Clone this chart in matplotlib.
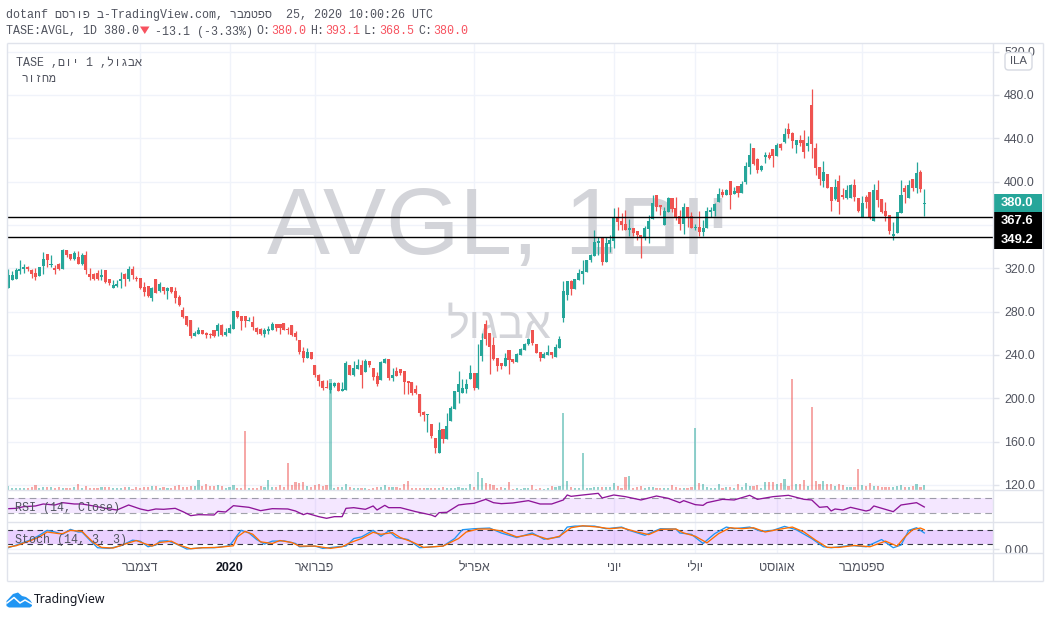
import matplotlib
matplotlib.use("Agg")
import matplotlib.pyplot as plt
from matplotlib.patches import Rectangle, FancyBboxPatch, Polygon
import numpy as np

W, H = 1050, 618

direction = ("GGGGGRRRGG" "RGRRGRRGRG" "RRRRGRRGGG" "RGRRRRRGRG" "RGRRRRRRGG"
             "RRRRGRGGGR" "RRGRRRGGGR" "RRRRRRRGRR" "RRRGGRGGRG" "GRGRRRGGRG"
             "RRRRRRRRGR" "RGRGGGGGGG" "RGGRRRRRGR" "RGGGGRRRGG" "RGGGGRGGGG"
             "GGGRGGGRRR" "GRRRGGGRRG" "GRRRGRRGRG" "GGGGRGRGRG" "GGRRGGRRGR"
             "GRRGRRGRRR" "GRRGRRGGRR" "GRRGRRRRGG" "GRGRGRG")

high = [319.1,317.8,320.0,327.7,324.0,322.1,319.4,320.0,320.9,334.8,
        333.2,332.3,323.1,325.2,337.5,336.9,333.2,336.0,336.0,333.8,
        336.0,320.3,315.4,318.5,319.4,318.5,310.1,309.2,309.2,316.6,
        315.4,322.1,322.1,312.9,311.1,307.4,303.7,302.8,310.1,307.4,
        302.8,302.8,302.8,302.8,295.4,284.3,276.0,272.3,262.1,265.8,
        263.1,261.2,260.3,263.1,269.5,268.6,264.9,268.6,280.6,280.6,
        276.0,276.0,275.1,276.0,265.8,264.9,264.9,266.8,270.5,268.6,
        268.6,269.5,265.8,267.7,262.1,253.8,247.4,246.5,242.8,230.8,
        222.4,216.9,216.9,214.1,215.1,215.1,215.1,234.4,230.8,234.4,
        236.3,235.4,236.3,234.4,228.0,224.3,234.4,237.2,236.3,228.0,
        228.9,227.1,225.2,216.0,215.1,212.3,204.0,188.3,185.5,176.3,
        163.4,178.1,171.7,186.5,192.9,206.8,225.2,217.8,217.8,230.8,
        223.4,250.1,260.3,272.3,260.3,256.6,237.2,232.6,241.8,244.6,
        236.3,241.8,246.5,251.1,255.7,263.1,250.1,242.8,242.8,249.2,
        242.8,250.1,257.5,308.3,308.3,309.2,310.1,319.4,327.7,327.7,
        333.2,355.4,349.2,349.2,349.2,350.8,375.4,376.6,370.8,373.8,
        365.5,357.2,354.5,350.8,359.1,369.2,387.7,387.7,378.5,376.6,
        385.8,384.9,385.8,373.8,380.3,376.6,372.0,360.9,372.9,364.6,
        376.6,376.6,380.3,394.2,393.2,393.2,400.6,395.1,396.0,400.6,
        418.2,435.7,431.1,421.8,415.4,427.4,427.4,430.2,435.7,435.7,
        449.5,454.2,445.8,438.5,443.1,447.7,442.2,485.5,435.7,413.5,
        419.1,407.1,395.1,402.5,406.2,394.2,396.9,397.8,402.5,384.9,
        386.8,387.7,390.4,397.8,401.5,384.0,381.2,369.2,362.8,372.0,
        401.5,396.9,401.5,402.5,418.2,410.8,393.1]

body_top = [313.8,313.8,318.5,319.4,320.9,320.9,318.5,315.7,320.9,328.6,
        333.2,324.3,320.3,324.3,336.9,336.9,333.2,333.8,330.1,332.3,
        332.3,314.8,314.8,315.4,313.8,318.5,310.1,304.6,305.5,310.1,
        314.8,319.4,319.4,310.8,311.1,302.8,303.7,301.8,310.1,305.5,
        302.8,301.8,302.8,299.1,293.5,281.5,276.0,272.3,260.3,263.1,
        263.1,260.3,259.4,263.1,267.7,267.7,261.2,264.9,280.6,280.6,
        276.0,276.0,272.3,270.5,264.9,264.0,263.1,264.0,268.6,268.6,
        268.6,269.5,264.0,267.7,260.3,253.8,243.7,242.8,242.8,230.8,
        221.5,216.0,209.8,214.1,214.1,214.1,208.3,232.6,230.8,228.0,
        230.8,230.8,234.4,234.4,228.0,220.6,233.5,236.3,236.3,221.5,
        225.2,227.1,225.2,216.0,215.1,208.6,204.0,187.4,185.5,176.3,
        163.4,170.8,171.7,174.5,191.1,206.8,213.2,209.5,213.2,223.4,
        223.4,223.4,253.8,268.6,260.3,249.2,237.2,232.6,237.2,244.6,
        236.3,240.9,245.5,250.1,254.8,263.1,250.1,242.8,240.9,242.8,
        242.8,247.4,254.8,299.1,308.3,308.3,310.1,315.7,317.5,327.7,
        332.3,344.3,345.2,349.2,343.4,346.2,367.7,367.7,363.7,360.9,
        357.2,357.2,354.5,350.8,357.2,363.7,380.3,387.7,378.5,372.9,
        384.9,384.9,375.7,368.3,376.6,376.6,368.3,358.1,358.1,357.2,
        372.9,373.8,379.4,388.6,390.4,392.3,400.6,391.4,396.0,397.8,
        414.5,424.6,431.1,420.9,414.5,424.6,424.6,430.2,433.9,434.8,
        444.0,448.6,444.9,438.5,438.5,438.5,435.7,470.8,431.1,413.5,
        408.9,407.1,395.1,395.1,400.6,387.7,392.3,396.9,396.9,384.9,
        380.3,385.8,390.4,392.3,392.3,384.0,372.9,369.2,351.7,372.0,
        387.7,394.2,396.9,402.5,408.0,409.0,380.4]

body_bottom = [302.1,309.2,310.1,317.5,319.1,319.1,315.1,312.3,313.2,322.2,
        327.7,323.1,318.5,319.4,319.7,332.6,328.6,328.6,324.0,324.0,
        318.5,312.3,309.8,309.8,312.3,307.4,306.5,301.8,303.7,308.6,
        310.1,310.1,313.8,309.8,301.8,298.2,294.5,292.6,296.9,299.1,
        299.1,299.1,298.2,292.6,286.1,275.1,267.7,257.5,257.5,259.4,
        259.4,258.5,258.5,257.5,262.1,258.5,258.5,260.3,264.0,275.1,
        271.4,271.4,271.4,265.8,261.2,259.4,259.4,262.1,263.1,264.9,
        264.9,263.1,263.1,258.5,256.6,242.8,237.2,237.2,236.3,221.5,
        216.0,209.5,209.2,207.7,211.4,206.8,206.8,207.7,221.5,221.5,
        227.1,221.5,224.3,230.8,219.7,213.2,216.9,232.6,218.8,218.8,
        220.6,223.4,215.1,214.1,204.9,204.9,186.5,184.6,184.6,165.2,
        154.1,149.5,162.5,162.5,179.1,190.1,205.8,204.9,208.6,217.8,
        209.5,209.5,239.1,254.8,247.4,236.3,229.8,229.8,229.8,235.4,
        233.5,233.5,240.0,244.6,250.1,251.1,241.8,237.2,237.2,240.0,
        240.0,238.1,246.5,274.2,295.4,300.9,300.9,309.2,314.8,316.6,
        327.7,331.4,343.4,325.8,325.8,342.5,345.2,363.1,360.0,355.4,
        355.4,352.6,350.8,348.0,348.0,356.3,365.5,376.6,376.6,360.0,
        372.0,374.8,367.4,360.9,360.9,366.5,357.2,357.2,353.5,353.5,
        357.2,372.0,372.9,381.2,387.7,387.7,387.7,388.6,389.5,389.5,
        399.7,413.5,416.3,410.8,410.8,422.8,421.8,423.7,423.7,431.1,
        436.6,444.0,437.5,433.9,435.7,427.4,432.9,434.8,412.6,402.5,
        400.6,394.2,382.2,384.0,381.2,385.8,384.9,384.9,385.8,372.9,
        367.4,381.2,366.5,363.7,383.1,372.0,368.3,354.5,349.8,352.6,
        371.1,390.5,384.9,394.2,394.2,393.2,379.6]

low = [302.1,309.2,310.1,314.8,316.0,317.8,311.4,309.2,313.2,314.8,
        321.5,321.5,314.8,318.5,319.7,330.8,327.7,327.7,324.0,323.1,
        314.8,309.2,309.2,309.2,309.2,306.2,304.6,301.8,303.1,301.8,
        303.7,308.3,310.1,308.3,300.9,294.5,293.5,289.8,296.9,298.2,
        296.3,291.7,297.2,288.0,285.2,274.1,266.8,255.7,257.5,259.4,
        259.4,255.7,255.7,256.6,257.5,257.5,257.5,260.3,264.0,274.1,
        263.1,265.8,271.4,263.1,259.4,258.5,256.6,259.4,263.1,262.1,
        259.4,263.1,259.4,257.5,253.8,240.9,233.5,237.2,236.3,219.7,
        211.4,207.7,209.2,204.9,210.5,206.8,206.8,207.7,221.5,220.6,
        227.1,209.6,224.3,228.9,216.9,211.4,216.9,232.6,216.9,216.0,
        220.6,221.5,204.0,204.0,203.1,204.0,183.7,179.1,168.9,163.4,
        149.5,149.5,158.8,162.5,179.1,190.1,195.7,204.9,204.9,217.8,
        207.7,208.6,234.4,249.2,222.5,235.4,225.2,227.1,229.8,222.5,
        232.6,233.5,240.0,244.6,249.2,249.2,241.8,234.4,237.2,240.0,
        237.2,238.1,246.5,270.5,290.8,295.4,300.9,309.2,305.5,316.6,
        325.8,331.4,332.3,323.1,325.8,334.8,338.5,355.4,355.4,355.4,
        349.8,349.8,346.2,329.5,346.2,343.4,365.5,372.9,369.2,360.0,
        372.0,372.0,364.6,355.4,351.7,358.1,357.2,355.4,349.8,349.8,
        357.2,367.4,368.3,381.2,385.8,387.7,374.8,388.6,385.8,389.5,
        397.8,407.1,415.4,408.0,409.8,417.2,420.9,413.5,423.7,429.2,
        435.7,440.3,431.1,426.5,432.9,421.8,428.3,421.8,406.2,396.9,
        395.1,394.2,372.9,383.1,370.2,384.0,384.0,384.9,382.2,372.0,
        367.4,375.7,365.5,363.7,376.6,371.1,363.7,351.7,346.2,352.6,
        371.1,380.3,384.9,391.4,389.5,390.5,368.5]

volume = [4,2,2,2,2,2,3,5,2,3, 3,3,2,3,2,2,2,3,6,2, 4,2,2,2,3,3,3,2,2,2,
          3,3,1,3,2,3,3,4,4,2, 3,2,2,4,5,3,3,4,4,10, 4,6,4,4,5,4,2,3,5,2,
          2,59,2,2,2,4,3,10,3,3, 5,3,27,5,8,7,8,4,3,5, 6,4,5,111,2,3,3,6,3,2,
          2,2,2,1,2,3,3,5,3,3, 3,2,6,9,2,2,2,2,2,2, 2,2,3,2,2,2,3,2,2,6,
          3,18,12,7,6,5,2,3,2,8, 1,2,1,2,2,5,1,2,1,2, 4,3,4,77,9,3,2,2,37,2,
          2,3,3,3,3,3,7,4,2,13, 14,2,3,4,2,3,3,2,2,2, 2,5,3,2,2,2,3,62,7,6,
          3,2,2,6,2,3,3,2,6,3, 7,4,4,5,2,8,8,8,6,7, 11,4,111,6,6,10,4,83,9,6,
          9,6,6,4,6,5,3,3,3,21, 5,4,7,4,4,3,3,3,3,4, 5,3,3,4,6,3,5]

rsi_bar = [1,3,5,8,10,13,15,18,20,23,26,29,32,35,37,39,41,44,46,48,50,54,55,57,59,63,66,69,73,75,
           77,78,81,83,85,87,88,90,93,95,96,98,99,102,106,110,111,112,114,117,119,121,124,126,128,
           131,135,138,141,144,145,146,149,153,154,157,160,164,168,171,174,175,178,180,181,185,188,
           192,194,198,202,206,208,210,212,213,214,216,218,222,223,224,229,231,235,237]
rsi_val = [42.3,43.2,47.7,49.5,54.8,52.1,58.3,54.8,54.8,49.5,43.2,38.8,52.1,41.5,37,41.5,40.6,43.2,34.3,23.7,
           26.3,25.4,35.2,33.5,50.3,45.9,37,42.3,41.5,36.1,26.3,29.9,21,16.6,21,21,43.2,45,40.6,49.5,
           38.8,51.2,45,45,34.3,25.4,21,31.7,32.6,52.1,54.8,56.6,67.2,58.3,55.7,
           57.5,63.7,54.8,54.8,65.5,78.8,75.2,78.8,83.2,70.8,78.8,74.3,65.5,76.1,69.9,58.3,63.7,53,
           51.2,58.3,67.2,65.5,77.9,67.2,74.3,77.9,67.2,65.5,45.9,47.7,36.1,41.5,38.8,45.9,36.1,38.8,
           49.5,34.3,52.1,58.3,46.8]

k_bar = [1,3,7,9,11,13,15,17,19,20,22,24,27,30,33,35,37,39,40,42,44,47,51,54,58,60,61,63,65,67,69,72,75,76,
         80,82,86,88,90,92,95,97,99,101,104,107,113,116,118,121,125,128,132,136,139,143,145,147,152,155,159,
         161,165,169,173,174,177,180,183,186,188,192,195,198,201,204,208,211,213,218,222,226,229,231,233,235,237]
k_val = [6.6,17.3,39.9,57.2,77.2,70.6,61.2,81.2,70.6,70.6,37.3,6.6,3.9,14.6,37.3,33.3,10.6,17.3,33.3,34.6,23.9,
         1.3,6.6,6.6,14.6,57.2,77.2,66.6,39.9,21.3,33.3,34.6,23.9,10.6,13.3,3.9,10.6,13.3,43.9,50.6,77.2,53.3,
         74.6,47.9,39.9,6.6,13.3,43.9,79.9,83.9,86.6,66.6,47.9,66.6,41.2,50.6,90.6,94.6,94.6,83.9,90.6,
         77.2,57.2,83.9,82.6,66.6,61.2,23.9,63.9,90.6,83.9,90.6,73.2,77.2,93.3,79.9,43.9,10.6,6.6,15.9,10.6,
         39.9,6.6,17.3,77.2,87.9,66.6]

d_bar = [1,3,7,9,11,14,15,17,20,21,23,25,28,31,34,36,38,40,43,45,48,51,55,59,60,62,64,66,69,71,74,76,80,84,87,
         89,92,95,97,100,102,105,108,113,117,119,122,125,128,132,136,140,143,146,149,153,156,159,163,166,169,
         173,175,178,181,184,187,190,193,196,199,203,206,209,212,215,219,223,227,230,232,234,236,237]
d_val = [9.3,14.6,37.3,50.6,70.6,63.9,63.9,77.2,73.2,57.2,26.6,7.9,5.2,21.3,35.9,23.9,13.3,27.9,33.3,17.3,2.6,
         6.6,7.9,14.6,50.6,73.2,61.2,30.6,23.9,35.9,27.9,13.3,13.3,3.9,10.6,26.6,43.9,69.3,61.2,67.9,47.9,30.6,
         7.9,13.3,43.9,70.6,82.6,82.6,74.6,50.6,61.2,41.2,53.3,87.9,95.9,90.6,83.9,87.9,70.6,59.9,81.2,82.6,
         66.6,53.3,26.6,63.9,87.9,83.9,87.9,70.6,79.9,90.6,70.6,37.3,7.9,7.9,15.9,10.6,33.3,13.3,50.6,79.9,86.6,79.9]

month_ticks = [34, 57, 79, 120, 156, 177, 198, 220]
month_labels = ["דצמבר", "2020", "פברואר", "אפריל", "יוני", "יולי", "אוגוסט", "ספטמבר"]
price_ticks = [120, 160, 200, 240, 280, 320, 360, 400, 440, 480, 520]
price_hidden = [360]
level_lines = [367.6, 349.2]
rsi_band = [30, 70]
stoch_band = [20, 80]


def vis(s):
    return s[::-1]


UP, DOWN = "#26a69a", "#ef5350"
GRID = "#f0f3fa"
BORDER = "#e0e3eb"
TXT = "#131722"
GREY = "#50535e"
WM = "#d3d4d9"
SANS = "Liberation Sans"
MONO = "Liberation Mono"

fig = plt.figure(figsize=(W / 100, H / 100), dpi=100, facecolor="white")


def pane(x0, y0, x1, y1, **kw):
    return fig.add_axes([x0 / W, 1 - y1 / H, (x1 - x0) / W, (y1 - y0) / H], **kw)


XL = (-0.464, 253.7)
ax = pane(6.5, 43, 993, 489.5)
vx = pane(6.5, 43, 993, 489.5)
rs = pane(6.5, 490, 993, 521.5)
st = pane(6.5, 522, 993, 552.5)

x = np.arange(len(high))
colors = [UP if c == "G" else DOWN for c in direction]

# main
ax.set_xlim(*XL)
ax.set_ylim(115.8, 528)
for t in month_ticks:
    for a in (ax, rs, st):
        a.axvline(t, color=GRID, lw=1, zorder=0)
for p in price_ticks:
    ax.axhline(p, color=GRID, lw=1, zorder=0)
ax.text(0.4992, 0.5274, "AVGL, 1" + vis("יום"), transform=ax.transAxes, ha="center", va="baseline",
        fontsize=68, color=WM, family=SANS, zorder=1)
ax.text(0.4992, 0.339, vis("אבגול"), transform=ax.transAxes, ha="center", va="baseline",
        fontsize=31, color=WM, family=SANS, zorder=1)
ax.vlines(x, low, high, colors=colors, lw=0.9, zorder=4)
bh = [max(t - b, 1.0) for t, b in zip(body_top, body_bottom)]
ax.bar(x, bh, width=0.78, bottom=body_bottom, color=colors, linewidth=0, zorder=5)
for lv in level_lines:
    ax.axhline(lv, color="black", lw=1.0, zorder=6)
ax.yaxis.tick_right()
shown = [p for p in price_ticks if p not in price_hidden]
ax.set_yticks(shown)
ax.set_yticklabels([f"{p:.1f}" for p in shown], family=SANS, fontsize=8.9, color=GREY)
ax.tick_params(axis="y", length=4, width=1, color=BORDER, pad=4)
ax.set_xticks([])

# volume
vx.set_xlim(*XL)
vx.set_ylim(0, 446.5)
vx.patch.set_alpha(0)
vx.bar(x, volume, width=0.56, color=colors, alpha=0.5, linewidth=0)
vx.axis("off")

# RSI
rs.set_xlim(*XL)
rs.set_ylim(8.1, 92.1)
rs.axhspan(*rsi_band, color="#9915ff", alpha=0.1, lw=0, zorder=1)
for b in rsi_band:
    rs.axhline(b, color="#787b86", lw=0.8, dashes=(6, 4), alpha=0.7, zorder=2)
rs.plot(np.array(rsi_bar) - 1, rsi_val, color="#8e1599", lw=0.95, zorder=3)
rs.set_xticks([])
rs.set_yticks([])

# Stochastic
st.set_xlim(*XL)
st.set_ylim(-12.8, 111.2)
st.axhspan(*stoch_band, color="#9915ff", alpha=0.2, lw=0, zorder=1)
for b in stoch_band:
    st.axhline(b, color="#363a45", lw=0.8, dashes=(5, 4), zorder=2)
st.plot(np.array(k_bar) - 1, k_val, color="#2196f3", lw=0.95, zorder=3)
st.plot(np.array(d_bar) - 1, d_val, color="#ff6d00", lw=0.95, zorder=4)
st.yaxis.tick_right()
st.set_yticks([0])
st.set_yticklabels(["0.00"], family=SANS, fontsize=8.9, color=GREY)
st.axhline(0, color=GRID, lw=1, zorder=0)
st.tick_params(axis="y", length=4, width=1, color=BORDER, pad=4)
st.set_xticks(month_ticks)
st.set_xticklabels([vis(m) if not m.isdigit() else m for m in month_labels], family=SANS, fontsize=9, color=GREY)
st.tick_params(axis="x", length=0, pad=7)
for lab, m in zip(st.get_xticklabels(), month_labels):
    if m.isdigit():
        lab.set_fontweight("bold")
        lab.set_color(TXT)

for a in (ax, rs, st):
    for s in a.spines.values():
        s.set_visible(False)

# overlay drawn in pixel units
ov = fig.add_axes([0, 0, 1, 1], zorder=10)
ov.set_xlim(0, W)
ov.set_ylim(H, 0)
ov.axis("off")
ov.patch.set_alpha(0)
for xa, ya, xb, yb in [(6.5, 43, 1042.5, 43), (6.5, 581, 1042.5, 581), (6.5, 43, 6.5, 581),
                       (1042.5, 43, 1042.5, 581), (993, 43, 993, 581), (6.5, 489.5, 1042.5, 489.5),
                       (6.5, 521.5, 1042.5, 521.5), (6.5, 552.5, 1042.5, 552.5)]:
    ov.plot([xa, xb], [ya, yb], color=BORDER, lw=1, solid_capstyle="butt")

# axis price labels
for y0, y1, fc, txt, yt in [(194, 212, UP, "380.0", 203.2), (212, 230.5, "black", "367.6", 221.2),
                            (230.5, 249, "black", "349.2", 239.7)]:
    ov.add_patch(Rectangle((993, y0), 48.5, y1 - y0, fc=fc, ec="none"))
    ov.text(1017, yt, txt, color="white", family=SANS, fontsize=9.4, fontweight="bold", ha="center", va="center")

ov.add_patch(FancyBboxPatch((1005, 52.5), 27, 17.5, boxstyle="round,pad=0,rounding_size=3.5", fc="white", ec="#d6d9e1", lw=1))
ov.text(1018.5, 61, "ILA", color=GREY, family=SANS, fontsize=8.2, ha="center", va="center")

# header
hdr = dict(family=MONO, fontsize=8.4, va="center", color=GREY)
ov.text(6.5, 15, "dotanf " + vis("פורסם") + " ב-TradingView.com, " + vis("ספטמבר") + "  25, 2020 10:00:26 UTC", **hdr)
ov.text(6.5, 31.5, "TASE:AVGL, 1D 380.0", **hdr)
ov.add_patch(Polygon([(140, 26.5), (149.5, 26.5), (144.8, 34)], fc="#f7525f", ec="none"))
ov.text(155, 31.5, "-13.1 (-3.33%)", **hdr)
red = "#f7525f"
for xl, lb, xv, val in [(256, "O:", 271, "380.0"), (310, "H:", 325, "393.1"), (364, "L:", 379, "368.5"), (418, "C:", 433, "380.0")]:
    ov.text(xl, 31.5, lb, **hdr)
    ov.text(xv, 31.5, val, **{**hdr, "color": red})
ov.text(15.5, 62.5, "TASE ," + vis("יום") + " 1 ," + vis("אבגול"), **hdr)
ov.text(22, 79.5, vis("מחזור"), **hdr)
ov.text(15, 508.5, "RSI (14, Close)", **hdr)
ov.text(15, 540.5, "Stoch (14, 3, 3)", **hdr)

# TradingView logo
ov.add_patch(Polygon([(6.5, 603), (6.5, 601), (13, 594), (18, 592.5), (22, 596), (26, 597), (30, 600), (32, 603),
                      (32, 606), (30, 607.5), (9, 607.5), (6.5, 606)], fc="#2196f3", ec="none"))
ov.plot([7, 14, 20, 25, 32], [603, 597.5, 603, 600, 604], color="white", lw=1.1)
ov.text(34, 600, "TradingView", family="Noto Sans", fontsize=8.8, color=TXT, va="center")

fig.savefig("out.png", dpi=100, facecolor="white")
